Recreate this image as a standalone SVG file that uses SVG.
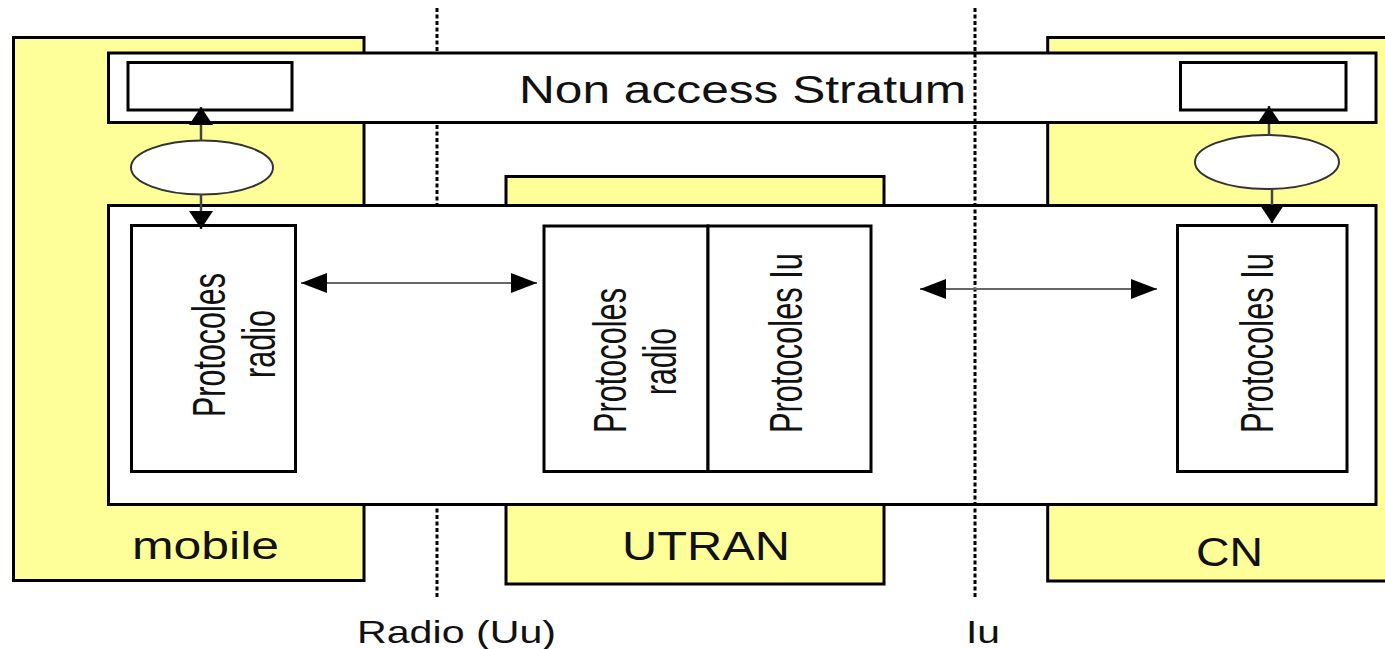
<svg xmlns="http://www.w3.org/2000/svg" width="1385" height="649" viewBox="0 0 1385 649">
<style>
.yel{fill:#FFFF99;stroke:#000;stroke-width:3}
.box{fill:#fff;stroke:#000;stroke-width:3}
.ell{fill:#fff;stroke:#333;stroke-width:2}
.dot{stroke:#000;stroke-width:3;stroke-dasharray:4 2.5;fill:none}
.t{font-family:"Liberation Sans",Arial,sans-serif;fill:#111}
.h{stroke:#666;stroke-width:2;fill:none}
.v{stroke:#444;stroke-width:2.5;fill:none}
</style>
<defs>
<marker id="ah" markerUnits="userSpaceOnUse" markerWidth="26" markerHeight="20" refX="26" refY="10" orient="auto-start-reverse" viewBox="0 0 26 20">
<path d="M0,0 L26,10 L0,20 z" fill="#000"/>
</marker>
<marker id="av" markerUnits="userSpaceOnUse" markerWidth="18" markerHeight="24" refX="18" refY="12" orient="auto" viewBox="0 0 18 24">
<path d="M0,0 L18,12 L0,24 z" fill="#000"/>
</marker>
</defs>
<rect width="1385" height="649" fill="#fff"/>

<g id="mobile">
<rect class="yel" x="13.5" y="37.5" width="350.5" height="543"/>
<text class="t" x="132" y="559" font-size="39" textLength="147" lengthAdjust="spacingAndGlyphs">mobile</text>
</g>
<g id="utran">
<rect class="yel" x="506" y="176.5" width="378" height="407.5"/>
<text class="t" x="622" y="560" font-size="40" textLength="168" lengthAdjust="spacingAndGlyphs">UTRAN</text>
</g>
<g id="cn">
<rect class="yel" x="1047.7" y="37.5" width="400" height="543.5"/>
<text class="t" x="1196" y="566" font-size="40" textLength="67" lengthAdjust="spacingAndGlyphs">CN</text>
</g>

<g id="boundary-radio">
<line class="dot" x1="437" y1="8" x2="437" y2="598"/>
<text class="t" x="357" y="643" font-size="32" textLength="199" lengthAdjust="spacingAndGlyphs">Radio (Uu)</text>
</g>

<g id="nas">
<rect class="box" x="108.5" y="53" width="1267.5" height="69.5"/>
<text class="t" x="519" y="103" font-size="38" textLength="447" lengthAdjust="spacingAndGlyphs">Non access Stratum</text>
</g>
<g id="nas-mobile"><rect class="box" x="128" y="62.5" width="164" height="47.5"/></g>
<g id="nas-cn"><rect class="box" x="1180.5" y="62.5" width="165.5" height="47.5"/></g>

<g id="access">
<rect class="box" x="108.5" y="205.5" width="1267.5" height="299"/>
</g>

<g id="mobile-radio">
<rect class="box" x="131.5" y="225.5" width="164" height="246"/>
<text class="t" font-size="46" transform="translate(225 417) rotate(-90)" textLength="144" lengthAdjust="spacingAndGlyphs">Protocoles</text>
<text class="t" font-size="46" transform="translate(275 378) rotate(-90)" textLength="68" lengthAdjust="spacingAndGlyphs">radio</text>
</g>
<g id="utran-radio">
<rect class="box" x="544" y="226" width="164" height="245.5"/>
<text class="t" font-size="46" transform="translate(626 433) rotate(-90)" textLength="145" lengthAdjust="spacingAndGlyphs">Protocoles</text>
<text class="t" font-size="46" transform="translate(676 395) rotate(-90)" textLength="67" lengthAdjust="spacingAndGlyphs">radio</text>
</g>
<g id="utran-iu">
<rect class="box" x="708" y="226" width="163" height="245.5"/>
<text class="t" font-size="46" transform="translate(802 433) rotate(-90)" textLength="180" lengthAdjust="spacingAndGlyphs">Protocoles Iu</text>
</g>
<g id="cn-iu">
<rect class="box" x="1177.5" y="225.5" width="169.5" height="246"/>
<text class="t" font-size="46" transform="translate(1273 433) rotate(-90)" textLength="180" lengthAdjust="spacingAndGlyphs">Protocoles Iu</text>
</g>

<g id="sap-mobile"><ellipse class="ell" cx="202" cy="167.5" rx="71" ry="27"/></g>
<g id="sap-cn"><ellipse class="ell" cx="1267" cy="162" rx="72" ry="27"/></g>

<g id="boundary-iu">
<line class="dot" x1="975" y1="8" x2="975" y2="598"/>
<text class="t" x="966" y="643" font-size="32" textLength="34" lengthAdjust="spacingAndGlyphs">Iu</text>
</g>

<g id="connectors">
<line class="h" x1="301" y1="283" x2="537" y2="283" marker-start="url(#ah)" marker-end="url(#ah)"/>
<line class="h" x1="920" y1="289" x2="1157" y2="289" marker-start="url(#ah)" marker-end="url(#ah)"/>
<line class="v" x1="201" y1="141" x2="201" y2="107" marker-end="url(#av)"/>
<line class="v" x1="201" y1="194" x2="201" y2="229" marker-end="url(#av)"/>
<line class="v" x1="1269" y1="135" x2="1269" y2="106" marker-end="url(#av)"/>
<line class="v" x1="1272" y1="189" x2="1272" y2="223" marker-end="url(#av)"/>
</g>
</svg>
